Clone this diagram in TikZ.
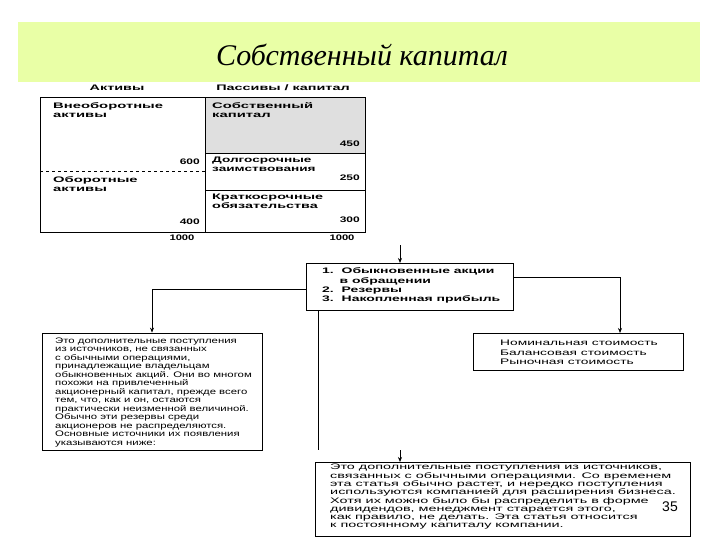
\documentclass[tikz,border=0pt]{standalone}
\usepackage{fontspec}
\setmainfont{Liberation Sans}
\newfontfamily\titlefont{Liberation Serif}
\usetikzlibrary{arrows.meta}
\newcommand\wx[2]{\scalebox{#1}[1]{\begin{tabular}{@{}l@{}}#2\end{tabular}}}
\begin{document}
\begin{tikzpicture}[x=1pt,y=-1pt,
  box/.style={draw,line width=0.8pt},
  lbl/.style={font=\fontsize{8}{9}\selectfont\bfseries,inner sep=0pt},
  txt/.style={font=\fontsize{8}{8.5}\selectfont,align=left,inner sep=0pt},
  conn/.style={line width=0.7pt},
  arr/.style={line width=0.7pt,-{Stealth[length=5pt,width=4pt]}}]
\useasboundingbox (0,0) rectangle (720,540);
\fill[white] (0,0) rectangle (720,540);
\fill[lime!35] (18,22) rectangle (700,82);
\node[font=\titlefont\itshape\fontsize{30}{34}\selectfont] (title) at (362,55) {Собственный капитал};
% balance
\node[lbl] (ha) at (117,89) {\wx{1.8}{Активы}};
\node[lbl] (hp) at (283,89) {\wx{1.8}{Пассивы / капитал}};
\fill[gray!25] (205,97) rectangle (365,153);
\draw[box] (40,97) rectangle (205,232);
\draw[box] (205,97) rectangle (365,232);
\draw[dashed,line width=0.7pt] (40,171) -- (205,171);
\draw[line width=0.7pt] (205,153) -- (365,153);
\draw[line width=0.7pt] (205,190) -- (365,190);
\node[lbl,anchor=north west] (vn) at (53,102) {\wx{1.85}{Внеоборотные\\активы}};
\node[lbl,anchor=north west] (ob) at (53,176) {\wx{1.85}{Оборотные\\активы}};
\node[lbl,anchor=north west] (sk) at (212,102) {\wx{1.85}{Собственный\\капитал}};
\node[lbl,anchor=north west] (dz) at (212,156) {\wx{1.7}{Долгосрочные\\заимствования}};
\node[lbl,anchor=north west] (ko) at (212,193) {\wx{1.8}{Краткосрочные\\обязательства}};
\node[lbl,anchor=east] (n600) at (200,163) {\wx{1.5}{600}};
\node[lbl,anchor=east] (n400) at (200,223) {\wx{1.5}{400}};
\node[lbl,anchor=east] (n450) at (360,145) {\wx{1.5}{450}};
\node[lbl,anchor=east] (n250) at (360,179) {\wx{1.5}{250}};
\node[lbl,anchor=east] (n300) at (360,221) {\wx{1.5}{300}};
\node[lbl] (t1) at (182,239) {\wx{1.4}{1000}};
\node[lbl] (t2) at (342,239) {\wx{1.4}{1000}};
% middle box
\node[box,minimum width=207pt,minimum height=47pt,inner sep=0pt] (mid) at (409.5,286.5) {};
\node[lbl,anchor=north west,font=\fontsize{8}{9.3}\selectfont\bfseries] (midt) at (322,267)
 {\wx{1.75}{1.\ \ Обыкновенные акции\\\hspace*{10pt}в обращении\\2.\ \ Резервы\\3.\ \ Накопленная прибыль}};
\coordinate (top) at (400,245);
\draw[arr] (top) -- (400,263);
% left box
\node[box,minimum width=220pt,minimum height=117pt,inner sep=0pt] (lb) at (152,391.5) {};
\node[txt,anchor=north west] (lbt) at (55,337) {\wx{1.42}{Это дополнительные поступления\\из источников, не связанных\\с обычными операциями,\\принадлежащие владельцам\\обыкновенных акций. Они во многом\\похожи на привлеченный\\акционерный капитал, прежде всего\\тем, что, как и он, остаются\\практически неизменной величиной.\\Обычно эти резервы среди\\акционеров не распределяются.\\Основные источники их появления\\указываются ниже:}};
\draw[conn] (mid.west |- 0,289) -- (152,289);
\draw[arr] (152,289) -- (lb.north);
% right box
\node[box,minimum width=210pt,minimum height=37pt,inner sep=0pt] (rb) at (578,351.5) {};
\node[txt,anchor=north west,font=\fontsize{8}{9.5}\selectfont] (rbt) at (500,339) {\wx{1.72}{Номинальная стоимость\\Балансовая стоимость\\Рыночная стоимость}};
\draw[conn] (mid.east |- 0,277) -- (620,277);
\draw[arr] (620,277) -- (620,333);
% bottom box
\node[box,minimum width=375pt,minimum height=74pt,inner sep=0pt] (bb) at (502.5,499) {};
\node[txt,anchor=north west,font=\fontsize{8}{8.2}\selectfont] (bbt) at (330,464) {\wx{1.8}{Это дополнительные поступления из источников,\\связанных с обычными операциями. Со временем\\эта статья обычно растет, и нередко поступления\\используются компанией для расширения бизнеса.\\Хотя их можно было бы распределить в форме\\дивидендов, менеджмент старается этого,\\как правило, не делать. Эта статья относится\\к постоянному капиталу компании.}};
\draw[conn] (318,310) -- (318,450);
\coordinate (bt) at (400,450);
\draw[arr] (bt) -- (400,462);
\node[font=\fontsize{14}{16}\selectfont] (pg) at (670,507) {35};
\end{tikzpicture}
\end{document}
